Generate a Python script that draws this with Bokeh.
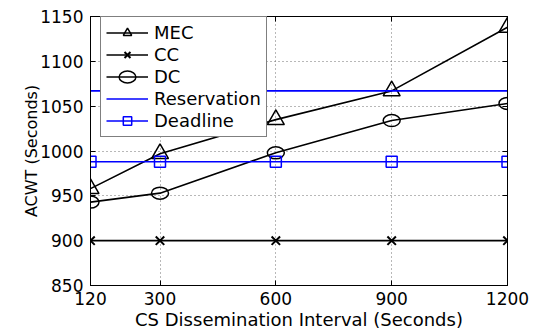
from bokeh.plotting import figure
from bokeh.models import (Range1d, FixedTicker, LinearAxis, Legend, LegendItem,
                          CustomLabelingPolicy)
from bokeh.embed import file_html
from bokeh.resources import INLINE

# ---- data ----
x_vals = [120, 300, 600, 900, 1200]
mec = [958, 997, 1035, 1067, 1138]
cc = [900, 900, 900, 900, 900]
dc = [943, 953, 998, 1034, 1053]
reservation = [1067, 1067, 1067, 1067, 1067]
deadline = [988, 988, 988, 988, 988]
x_ticks = [120, 300, 600, 900, 1200]
y_ticks = [850, 900, 950, 1000, 1050, 1100, 1150]

FONT = "DejaVu Sans"
BLUE = "#0000ff"

p = figure(width=534, height=332, output_backend="svg", toolbar_location=None,
           x_range=Range1d(120, 1200), y_range=Range1d(850, 1150),
           min_border_left=90, min_border_right=26, min_border_top=16,
           min_border_bottom=44)
p.outline_line_color = "black"
p.outline_line_width = 1
p.background_fill_color = "white"
p.border_fill_color = "white"

p.xaxis.ticker = FixedTicker(ticks=x_ticks)
p.yaxis.ticker = FixedTicker(ticks=y_ticks)
p.xaxis.axis_label = "CS Dissemination Interval (Seconds)"
p.yaxis.axis_label = "ACWT (Seconds)"
for ax in (p.xaxis[0], p.yaxis[0]):
    ax.major_tick_in = 5
    ax.major_tick_out = 0
    ax.minor_tick_line_color = None
    ax.axis_line_color = "black"
    ax.major_tick_line_color = "black"
    ax.major_label_text_font = FONT
    ax.major_label_text_font_size = "17px"
    ax.major_label_text_color = "black"
    ax.axis_label_text_font = FONT
    ax.axis_label_text_font_style = "normal"
    ax.axis_label_text_color = "black"
p.xaxis.axis_label_text_font_size = "18px"
p.yaxis.axis_label_text_font_size = "16px"
p.xaxis.major_label_standoff = 6
p.xaxis.axis_label_standoff = 1
p.yaxis.major_label_standoff = 7
p.yaxis.axis_label_standoff = -4

no_labels = CustomLabelingPolicy(code="return []")
for loc, ticks in (("right", y_ticks), ("above", x_ticks)):
    ax = LinearAxis(ticker=FixedTicker(ticks=ticks), major_tick_in=5, major_tick_out=0,
                    minor_tick_line_color=None, axis_line_color="black",
                    major_label_policy=no_labels, major_label_standoff=0)
    p.add_layout(ax, loc)

for g in (p.xgrid[0], p.ygrid[0]):
    g.grid_line_color = "#707070"
    g.grid_line_dash = "1 3"
    g.grid_line_width = 1
p.xgrid.ticker = FixedTicker(ticks=x_ticks)
p.ygrid.ticker = FixedTicker(ticks=y_ticks)

l1 = p.line(x_vals, mec, line_color="black", line_width=1.6)
m1 = p.scatter(x_vals, mec, marker="triangle", size=17, fill_color=None,
               line_color="black", line_width=1.5)
l2 = p.line(x_vals, cc, line_color="black", line_width=1.6)
m2 = p.scatter(x_vals, cc, marker="x", size=12, line_color="black", line_width=2)
l3 = p.line(x_vals, dc, line_color="black", line_width=1.6)
m3 = p.ellipse(x_vals, dc, width=17, height=12, width_units="screen",
               height_units="screen", fill_color=None, line_color="black",
               line_width=1.5)
l4 = p.line(x_vals, reservation, line_color=BLUE, line_width=1.6)
l5 = p.line(x_vals, deadline, line_color=BLUE, line_width=1.6)
m5 = p.scatter(x_vals, deadline, marker="square", size=11, fill_color=None,
               line_color=BLUE, line_width=1.5)

legend = Legend(items=[
    LegendItem(label="MEC", renderers=[l1, m1]),
    LegendItem(label="CC", renderers=[l2, m2]),
    LegendItem(label="DC", renderers=[l3, m3]),
    LegendItem(label="Reservation", renderers=[l4]),
    LegendItem(label="Deadline", renderers=[l5, m5]),
], location=(10, 148))
legend.label_text_font = FONT
legend.label_text_font_size = "18px"
legend.label_text_color = "black"
legend.glyph_width = 42
legend.glyph_height = 21
legend.label_height = 21
legend.label_standoff = 6
legend.spacing = 1
legend.padding = 5
legend.margin = 0
legend.border_line_color = "black"
legend.border_line_width = 1
legend.background_fill_color = "white"
legend.background_fill_alpha = 1
p.add_layout(legend)

open("out.html", "w").write(file_html(p, INLINE))
